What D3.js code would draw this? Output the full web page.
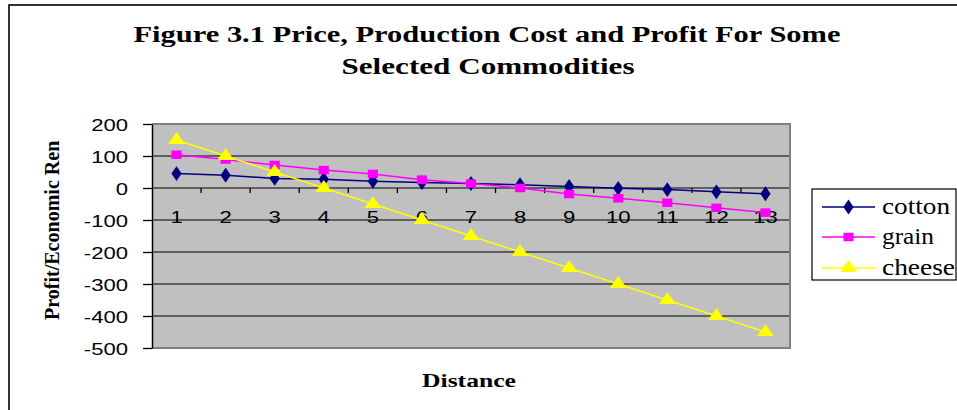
<!DOCTYPE html>
<html><head><meta charset="utf-8">
<script src="https://cdn.jsdelivr.net/npm/d3@7"></script>
<style>html,body{margin:0;padding:0;background:#fff;overflow:hidden}</style>
</head><body>
<svg id="chart" width="957" height="410"></svg>
<script>
// ---- data ----
const categories = [1,2,3,4,5,6,7,8,9,10,11,12,13];
const cotton = [45, 40, 30, 27, 21, 17, 14, 10, 5, -1, -5, -12, -18];
const grain  = [104, 89, 72, 56, 44, 26, 14, 0, -19, -32, -46, -62, -77];
const cheese = [150, 100, 50, 0, -50, -100, -150, -200, -250, -300, -350, -400, -450];
const yTicks = [200, 100, 0, -100, -200, -300, -400, -500];
const seriesNames = ["cotton", "grain", "cheese"];
const titleLines = ["Figure 3.1 Price, Production Cost and Profit For Some", "Selected Commodities"];
const xTitle = "Distance";
const yTitle = "Profit/Economic Rent";

const series = [
  {name: seriesNames[0], values: cotton, color: "#000080", symbol: d3.symbolDiamond, size: 64},
  {name: seriesNames[1], values: grain,  color: "#FF00FF", symbol: d3.symbolSquare,  size: 72},
  {name: seriesNames[2], values: cheese, color: "#FFFF00", symbol: d3.symbolTriangle, size: 85}
];

const svg = d3.select("#chart");
const L = 152, R = 790, T = 124, B = 348;
const x = d3.scaleBand().domain(categories).range([L, R]).padding(0);
const y = d3.scaleLinear().domain([-500, 200]).range([B, T]);

// outer border
svg.append("rect").attr("x", 9).attr("y", 5).attr("width", 960).attr("height", 420)
  .attr("fill", "none").attr("stroke", "#000").attr("stroke-width", 1.6);

// title
svg.append("text").attr("x", 487).attr("y", 42).attr("text-anchor", "middle")
  .attr("font-family", "Liberation Serif, Times New Roman, serif").attr("font-weight", "bold")
  .attr("font-size", 24).attr("textLength", 707).attr("lengthAdjust", "spacingAndGlyphs")
  .text(titleLines[0]);
svg.append("text").attr("x", 488).attr("y", 74).attr("text-anchor", "middle")
  .attr("font-family", "Liberation Serif, Times New Roman, serif").attr("font-weight", "bold")
  .attr("font-size", 24).attr("textLength", 293).attr("lengthAdjust", "spacingAndGlyphs")
  .text(titleLines[1]);

// plot background
svg.append("rect").attr("x", L).attr("y", T).attr("width", R - L).attr("height", B - T)
  .attr("fill", "#C0C0C0");

// gridlines
svg.append("g").selectAll("line").data(yTicks.filter(v => v !== 200 && v !== -500)).join("line")
  .attr("x1", L).attr("x2", R).attr("y1", d => y(d)).attr("y2", d => y(d))
  .attr("stroke", "#000").attr("stroke-width", 1.2);

// plot border (gray)
svg.append("path")
  .attr("d", `M${L},${T}H${R}V${B}H${L}`)
  .attr("fill", "none").attr("stroke", "#808080").attr("stroke-width", 2);

// y axis
const yAxis = svg.append("g").attr("transform", `translate(${L},0)`)
  .call(d3.axisLeft(y).tickValues(yTicks).tickSize(9).tickSizeOuter(0).tickFormat(d => String(d)));
yAxis.select(".domain").attr("stroke", "#000").attr("stroke-width", 1.5);
yAxis.selectAll(".tick line").attr("stroke", "#000").attr("stroke-width", 1.3);
yAxis.selectAll(".tick text")
  .attr("font-family", "Liberation Sans, Arial, sans-serif").attr("font-size", 17).attr("fill", "#000")
  .attr("x", -24 / 1.3).attr("dy", "0.36em")
  .attr("transform", "scale(1.3,1)");

// x axis at zero: ticks between categories, labels below
const xAxisG = svg.append("g");
const bounds = categories.slice(1).map(c => x(c));
xAxisG.selectAll("line.xt").data(bounds).join("line").attr("class", "xt")
  .attr("x1", d => d).attr("x2", d => d).attr("y1", y(0)).attr("y2", y(0) + 5)
  .attr("stroke", "#000").attr("stroke-width", 1.3);
xAxisG.selectAll("text").data(categories).join("text")
  .attr("transform", d => `translate(${x(d) + x.bandwidth() / 2},${y(0) + 35}) scale(1.3,1)`)
  .attr("text-anchor", "middle")
  .attr("font-family", "Liberation Sans, Arial, sans-serif").attr("font-size", 17).attr("fill", "#000")
  .text(d => d);

// lines & markers
const line = d3.line().x((d, i) => x(categories[i]) + x.bandwidth() / 2).y(d => y(d));
series.forEach(s => {
  svg.append("path").datum(s.values).attr("d", line)
    .attr("fill", "none").attr("stroke", s.color).attr("stroke-width", 1.5);
  svg.append("g").selectAll("path").data(s.values).join("path")
    .attr("transform", (d, i) => `translate(${x(categories[i]) + x.bandwidth() / 2},${y(d)}) scale(1.2,1)`)
    .attr("d", d3.symbol().type(s.symbol).size(s.size))
    .attr("fill", s.color);
});

// axis titles
svg.append("text").attr("x", 469).attr("y", 387).attr("text-anchor", "middle")
  .attr("font-family", "Liberation Serif, Times New Roman, serif").attr("font-weight", "bold")
  .attr("font-size", 19).attr("textLength", 94).attr("lengthAdjust", "spacingAndGlyphs")
  .text(xTitle);

svg.append("clipPath").attr("id", "yclip").append("rect")
  .attr("x", 0).attr("y", 141).attr("width", 140).attr("height", 260);
svg.append("g").attr("clip-path", "url(#yclip)")
  .append("text").attr("transform", "translate(59,320) rotate(-90)")
  .attr("font-family", "Liberation Serif, Times New Roman, serif").attr("font-weight", "bold")
  .attr("font-size", 20).attr("textLength", 186).attr("lengthAdjust", "spacingAndGlyphs")
  .text(yTitle);

// legend
const lg = svg.append("g");
lg.append("rect").attr("x", 812).attr("y", 189).attr("width", 144).attr("height", 91)
  .attr("fill", "#fff").attr("stroke", "#000").attr("stroke-width", 1.2);
const legY = [207, 237, 268];
const legLen = [68, 52, 73];
series.forEach((s, i) => {
  lg.append("line").attr("x1", 822).attr("x2", 875).attr("y1", legY[i]).attr("y2", legY[i])
    .attr("stroke", s.color).attr("stroke-width", 1.5);
  lg.append("path").attr("transform", `translate(848.5,${legY[i]}) scale(1.2,1)`)
    .attr("d", d3.symbol().type(s.symbol).size(s.size)).attr("fill", s.color);
  lg.append("text").attr("x", 882).attr("y", legY[i] + 6.5)
    .attr("font-family", "Liberation Serif, Times New Roman, serif").attr("font-size", 23)
    .attr("textLength", legLen[i]).attr("lengthAdjust", "spacingAndGlyphs")
    .text(s.name);
});
</script>
</body></html>
